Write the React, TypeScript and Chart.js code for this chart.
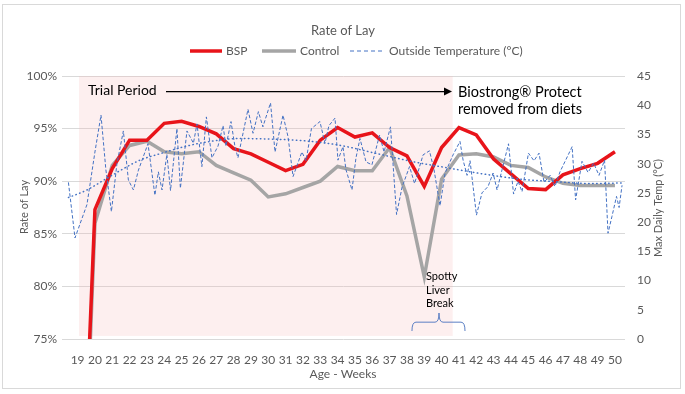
import React, { useEffect, useRef } from 'react';
import { Chart, registerables } from 'chart.js';

Chart.register(...registerables);

// ---------- DATA ----------
const weekTicks = [19, 20, 21, 22, 23, 24, 25, 26, 27, 28, 29, 30, 31, 32, 33, 34, 35, 36, 37, 38, 39, 40, 41, 42, 43, 44, 45, 46, 47, 48, 49, 50];
const lineWeeks = [19, 20, 21, 22, 23, 24, 25, 26, 27, 28, 29, 30, 31, 32, 33, 34, 35, 36, 37, 38, 39, 40, 41, 42, 43, 44, 45, 46, 47, 48, 49, 50];
const bspValues = [47, 87.3, 91.2, 93.9, 93.9, 95.5, 95.7, 95.2, 94.5, 93.1, 92.6, 91.8, 91.0, 91.6, 93.9, 95.1, 94.2, 94.6, 93.2, 92.4, 89.5, 93.2, 95.1, 94.4, 92.1, 90.7, 89.3, 89.2, 90.6, 91.2, 91.7, 92.8];
const controlValues = [44, 86.0, 91.5, 93.4, 93.8, 92.8, 92.6, 92.8, 91.5, 90.8, 90.1, 88.5, 88.8, 89.4, 90.0, 91.4, 91.0, 91.0, 93.2, 88.6, 80.9, 90.2, 92.5, 92.6, 92.3, 91.5, 91.3, 90.4, 89.8, 89.6, 89.6, 89.6];

const tempWeeks = [18.47, 18.85, 19.54, 20.0, 20.35, 20.63, 20.95, 21.27, 21.64, 21.93, 22.22, 22.51, 23.06, 23.46, 23.66, 23.87, 24.15, 24.36, 24.73, 24.93, 25.31, 25.68, 25.89, 26.17, 26.43, 26.75, 27.1, 27.39, 27.56, 27.85, 28.08, 28.25, 28.83, 29.12, 29.43, 29.69, 30.13, 30.39, 30.85, 31.14, 31.43, 31.94, 32.18, 32.49, 32.98, 33.27, 33.5, 33.85, 34.02, 34.31, 34.48, 34.83, 35.06, 35.29, 35.64, 35.98, 36.42, 36.68, 37.05, 37.4, 37.72, 38.15, 38.44, 38.93, 39.3, 39.56, 39.91, 40.2, 40.66, 41.06, 41.24, 41.47, 41.64, 42.01, 42.33, 42.68, 42.97, 43.2, 43.49, 43.86, 44.15, 44.41, 44.64, 45.01, 45.33, 45.62, 45.91, 46.26, 46.54, 46.83, 47.53, 47.73, 48.1, 48.45, 48.77, 49.08, 49.4, 49.6, 49.83, 50.09, 50.24, 50.41];
const tempValues = [26.8, 17.3, 23, 32, 38.3, 29, 21.8, 30, 35.6, 27.2, 25.5, 28.9, 33.4, 24.6, 28.6, 25.5, 31.6, 25.4, 36, 25.8, 35.6, 33.5, 36.8, 29.5, 38, 31, 33, 36.5, 33, 37.2, 32.9, 31, 39.3, 35.2, 38.9, 36.3, 40.4, 32, 38.3, 34.6, 27.8, 32, 30.5, 36, 37.2, 33.5, 36.5, 37.8, 30.6, 32.9, 29, 25.5, 31, 34.3, 30.3, 29.8, 34.9, 32, 36.3, 21.3, 26, 29.5, 26.6, 31.5, 32.2, 29, 22.8, 28.4, 31.5, 33.8, 30.6, 28, 30.5, 21.2, 25, 26.1, 28.4, 25.5, 29, 33.4, 24.8, 27, 25.2, 31.8, 30.5, 31.8, 26.8, 28, 26.1, 28.6, 32.9, 23.8, 30.4, 28.5, 30.1, 28, 30.6, 18.1, 21, 24.4, 22.5, 26.3];

const trendWeeks = [18.47, 19.54, 20.58, 21.56, 22.6, 23.87, 25.02, 26.23, 28.37, 30.21, 32.12, 34.02, 36.45, 38.41, 40.31, 42.27, 44.7, 46.66, 48.56, 50.47];
const trendValues = [24.2, 25.5, 27.3, 29.0, 30.6, 31.8, 32.8, 33.6, 34.3, 34.2, 33.9, 33.2, 31.6, 30.3, 29.3, 28.3, 27.3, 26.9, 26.6, 26.7];

const leftTicks = [75, 80, 85, 90, 95, 100];
const rightTicks = [0, 5, 10, 15, 20, 25, 30, 35, 40, 45];

const seriesNames = ['BSP', 'Control', 'Outside Temperature (°C)'];

// ---------- STYLE / LAYOUT ----------
const FONT = "Lato, 'Open Sans', sans-serif";
const RED = '#E8141A';
const GREY = '#A5A5A5';
const BLUE = '#4472C4';
const TEXT = '#595959';

const annot = {
  shade: { x1: 19.08, x2: 40.64, y1: 75.29, y2: 100 },
  trial: { x: 19.6, y: 98.67 },
  arrow: { x1: 24.1, x2: 40.6, y: 98.57 },
  bio: { x: 40.95, y1: 98.48, y2: 96.8 },
  spotty: { x: 39.1, ys: [80.9, 79.66, 78.42] },
  bracket: { x1: 38.29, xm: 39.85, x2: 41.35, yEnd: 75.76, yBar: 76.6, yTip: 77.47 },
};

const decor = {
  id: 'decor',
  beforeDraw(chart: any) {
    const ctx = chart.ctx;
    ctx.save();
    ctx.fillStyle = '#FFFFFF';
    ctx.fillRect(0, 0, chart.width, chart.height);
    ctx.strokeStyle = '#D9D9D9';
    ctx.lineWidth = 1;
    ctx.strokeRect(2.5, 4.5, 678, 384);
    ctx.restore();
  },
  beforeDatasetsDraw(chart: any) {
    const { ctx, scales } = chart;
    const x = scales.x, y = scales.y;
    const s = annot.shade;
    ctx.save();
    ctx.fillStyle = 'rgba(245,180,180,0.22)';
    const px1 = x.getPixelForValue(s.x1), px2 = x.getPixelForValue(s.x2);
    const py1 = y.getPixelForValue(s.y2), py2 = y.getPixelForValue(s.y1);
    ctx.fillRect(px1, py1, px2 - px1, py2 - py1);
    ctx.restore();
  },
  afterDraw(chart: any) {
    const { ctx, scales } = chart;
    const x = scales.x, y = scales.y;
    ctx.save();
    // title
    ctx.fillStyle = TEXT;
    ctx.textAlign = 'center';
    ctx.textBaseline = 'middle';
    ctx.font = `13px ${FONT}`;
    ctx.fillText('Rate of Lay', 343, 31);

    // legend
    ctx.font = `12px ${FONT}`;
    ctx.textAlign = 'left';
    const ly = 51;
    ctx.lineWidth = 3.5;
    ctx.strokeStyle = RED;
    ctx.beginPath(); ctx.moveTo(190, ly); ctx.lineTo(222, ly); ctx.stroke();
    ctx.fillText(seriesNames[0], 226, ly);
    ctx.strokeStyle = GREY;
    ctx.beginPath(); ctx.moveTo(262, ly); ctx.lineTo(296, ly); ctx.stroke();
    ctx.fillText(seriesNames[1], 300, ly);
    ctx.strokeStyle = BLUE;
    ctx.lineWidth = 1;
    ctx.setLineDash([4, 3]);
    ctx.beginPath(); ctx.moveTo(350, ly); ctx.lineTo(384, ly); ctx.stroke();
    ctx.setLineDash([]);
    ctx.fillText(seriesNames[2], 389, ly);

    // axis titles
    ctx.textAlign = 'center';
    ctx.font = `11px ${FONT}`;
    ctx.save();
    ctx.translate(24, 207);
    ctx.rotate(-Math.PI / 2);
    ctx.fillText('Rate of Lay', 0, 0);
    ctx.restore();
    ctx.save();
    ctx.translate(658, 208);
    ctx.rotate(-Math.PI / 2);
    ctx.fillText('Max Daily Temp (°C)', 0, 0);
    ctx.restore();
    ctx.font = `12px ${FONT}`;
    ctx.fillText('Age - Weeks', 343, 374);

    // annotations
    ctx.fillStyle = '#000000';
    ctx.textAlign = 'left';
    ctx.font = `14px ${FONT}`;
    ctx.fillText('Trial Period', x.getPixelForValue(annot.trial.x), y.getPixelForValue(annot.trial.y));
    const ay = Math.round(y.getPixelForValue(annot.arrow.y)) + 0.5;
    const ax1 = x.getPixelForValue(annot.arrow.x1), ax2 = x.getPixelForValue(annot.arrow.x2);
    ctx.strokeStyle = '#000000';
    ctx.lineWidth = 1.25;
    ctx.beginPath(); ctx.moveTo(ax1, ay); ctx.lineTo(ax2 - 6, ay); ctx.stroke();
    ctx.beginPath(); ctx.moveTo(ax2, ay); ctx.lineTo(ax2 - 8, ay - 4); ctx.lineTo(ax2 - 8, ay + 4); ctx.closePath(); ctx.fill();
    ctx.font = `14.5px ${FONT}`;
    const bx = x.getPixelForValue(annot.bio.x);
    ctx.fillText('Biostrong® Protect', bx, y.getPixelForValue(annot.bio.y1));
    ctx.fillText('removed from diets', bx, y.getPixelForValue(annot.bio.y2));

    ctx.font = `11px ${FONT}`;
    const sx = x.getPixelForValue(annot.spotty.x);
    ['Spotty', 'Liver', 'Break'].forEach((t, i) => ctx.fillText(t, sx, y.getPixelForValue(annot.spotty.ys[i])));

    const b = annot.bracket;
    const bx1 = x.getPixelForValue(b.x1), bxm = x.getPixelForValue(b.xm), bx2 = x.getPixelForValue(b.x2);
    const yE = y.getPixelForValue(b.yEnd), yB = y.getPixelForValue(b.yBar), yT = y.getPixelForValue(b.yTip);
    ctx.strokeStyle = '#5B7FC4';
    ctx.lineWidth = 1;
    ctx.beginPath();
    ctx.moveTo(bx1, yE);
    ctx.quadraticCurveTo(bx1, yB, bx1 + 4, yB);
    ctx.lineTo(bxm - 4, yB);
    ctx.quadraticCurveTo(bxm, yB, bxm, yT);
    ctx.quadraticCurveTo(bxm, yB, bxm + 4, yB);
    ctx.lineTo(bx2 - 4, yB);
    ctx.quadraticCurveTo(bx2, yB, bx2, yE);
    ctx.stroke();
    ctx.restore();
  },
};

export default function App() {
  const ref = useRef<HTMLCanvasElement | null>(null);
  useEffect(() => {
    if (!ref.current) return;
    const pts = (xs: number[], ys: number[]) => xs.map((v, i) => ({ x: v, y: ys[i] }));
    const chart = new Chart(ref.current, {
      type: 'line',
      data: {
        datasets: [
          {
            label: seriesNames[2],
            data: pts(tempWeeks, tempValues),
            yAxisID: 'y2',
            borderColor: BLUE,
            borderWidth: 1,
            borderDash: [3.5, 2],
            pointRadius: 0,
            tension: 0,
            order: 0,
          },
          {
            label: 'trend',
            data: pts(trendWeeks, trendValues),
            yAxisID: 'y2',
            borderColor: BLUE,
            borderWidth: 1.5,
            borderDash: [0.5, 3.5],
            borderCapStyle: 'round',
            pointRadius: 0,
            cubicInterpolationMode: 'monotone',
            order: 0,
          },
          {
            label: seriesNames[0],
            data: pts(lineWeeks, bspValues),
            yAxisID: 'y',
            borderColor: RED,
            borderWidth: 3.5,
            pointRadius: 0,
            tension: 0,
            order: 1,
          },
          {
            label: seriesNames[1],
            data: pts(lineWeeks, controlValues),
            yAxisID: 'y',
            borderColor: GREY,
            borderWidth: 3.5,
            pointRadius: 0,
            tension: 0,
            order: 2,
          },
        ],
      },
      options: {
        animation: false,
        responsive: false,
        devicePixelRatio: 1,
        layout: { padding: { top: 76, bottom: 0, left: 0, right: 0 } },
        plugins: { legend: { display: false }, title: { display: false }, tooltip: { enabled: false } },
        scales: {
          x: {
            type: 'linear',
            min: 18.1,
            max: 50.58,
            afterBuildTicks: (s: any) => { s.ticks = weekTicks.map((v) => ({ value: v })); },
            afterFit: (s: any) => { s.height = 55; },
            grid: { display: false },
            border: { display: false },
            ticks: { color: TEXT, font: { size: 12, family: FONT }, maxRotation: 0, autoSkip: false, padding: 6, callback: (v: any) => String(v) },
          },
          y: {
            position: 'left',
            min: 75,
            max: 100,
            afterBuildTicks: (s: any) => { s.ticks = leftTicks.map((v) => ({ value: v })); },
            afterFit: (s: any) => { s.width = 62; },
            grid: { color: '#D9D9D9', drawTicks: false },
            border: { display: false },
            ticks: { color: TEXT, font: { size: 12, family: FONT }, padding: 5, callback: (v: any) => v + '%' },
          },
          y2: {
            position: 'right',
            min: 0,
            max: 45,
            afterBuildTicks: (s: any) => { s.ticks = rightTicks.map((v) => ({ value: v })); },
            afterFit: (s: any) => { s.width = 60; },
            grid: { display: false, drawTicks: false },
            border: { display: false },
            ticks: { color: TEXT, font: { size: 12, family: FONT }, padding: 12 },
          },
        },
      },
      plugins: [decor],
    });
    return () => chart.destroy();
  }, []);
  return (
    <div style={{ position: 'fixed', left: 0, top: 0, width: 685, height: 394, background: '#fff' }}>
      <canvas ref={ref} width={685} height={394} style={{ width: 685, height: 394, display: 'block' }} />
    </div>
  );
}
